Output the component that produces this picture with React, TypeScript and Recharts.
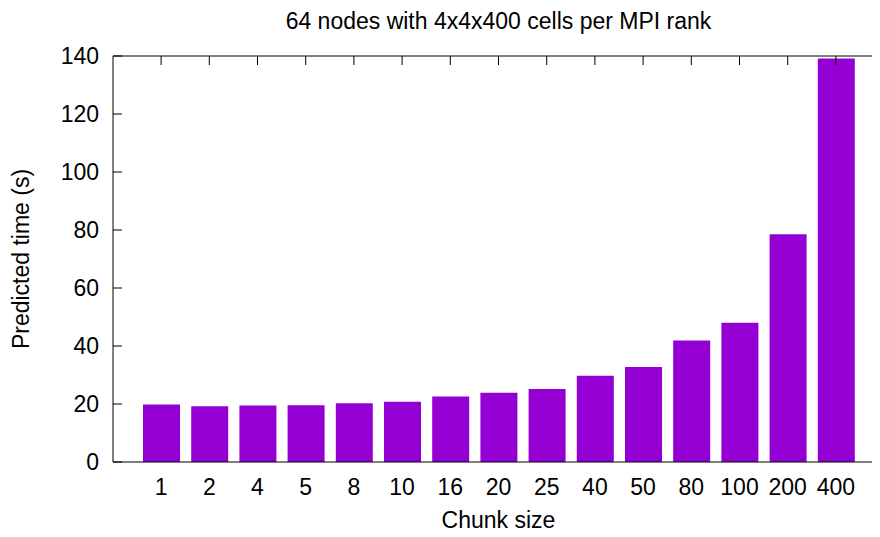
import React from 'react';
import { BarChart, Bar, XAxis, YAxis, Label, ReferenceLine } from 'recharts';

// chunk size categories and predicted run times (s)
const chunkSizes = ['1', '2', '4', '5', '8', '10', '16', '20', '25', '40', '50', '80', '100', '200', '400'];
const predictedTimes = [19.8, 19.2, 19.5, 19.6, 20.3, 20.8, 22.6, 23.9, 25.2, 29.7, 32.8, 41.9, 48.0, 78.5, 139.1];
const yTicks = [0, 20, 40, 60, 80, 100, 120, 140];

const title = '64 nodes with 4x4x400 cells per MPI rank';
const font = '"Liberation Sans", Arial, Helvetica, sans-serif';
const fontSize = 23;
const barColor = '#9400d3';

// layout
const chartWidth = 884;
const chartHeight = 537;
const margin = { top: 56, right: 0, bottom: 0, left: 0 };
const yAxisWidth = 113;
const xAxisHeight = 75;
const plotWidth = chartWidth - yAxisWidth - margin.right;
const tickLen = 9;
const yLabelGap = 14;

const data = chunkSizes.map((c, i) => ({ chunk: c, time: predictedTimes[i] }));

// gnuplot style: labels outside, tick marks pointing into the plot
const LeftTick = (props: any) => {
  const { x, y, payload } = props;
  const axisX = x + yLabelGap;
  return (
    <g>
      <line x1={axisX} x2={axisX + tickLen} y1={y} y2={y} stroke="#000" strokeWidth={1} />
      <text x={x} y={y} dy="0.35em" textAnchor="end" fontFamily={font} fontSize={fontSize} fill="#000">
        {payload.value}
      </text>
    </g>
  );
};

// mirrored tick marks on the top and right border
const topTickShape = (p: any) => {
  const top = Math.min(p.y1, p.y2);
  return <line x1={p.x1} x2={p.x1} y1={top} y2={top + tickLen} stroke="#000" strokeWidth={1} />;
};

const rightTickShape = (p: any) => {
  const right = Math.max(p.x1, p.x2);
  return <line x1={right - tickLen} x2={right} y1={p.y1} y2={p.y1} stroke="#000" strokeWidth={1} />;
};

const App: React.FC = () => {
  return (
    <div style={{ position: 'relative', width: 880, height: 537, overflow: 'hidden', margin: -8, background: '#fff' }}>
      <div
        style={{
          position: 'absolute',
          left: yAxisWidth,
          top: 10,
          width: plotWidth,
          textAlign: 'center',
          fontFamily: font,
          fontSize: fontSize,
          lineHeight: '23px',
          color: '#000',
        }}
      >
        {title}
      </div>
      <BarChart
        width={chartWidth}
        height={chartHeight}
        data={data}
        margin={margin}
        style={{ position: 'absolute', left: 0, top: 0 }}
      >
        <XAxis
          dataKey="chunk"
          height={xAxisHeight}
          padding={{ left: 24, right: 24 }}
          tickLine={false}
          tickSize={0}
          tickMargin={17}
          axisLine={{ stroke: '#000', strokeWidth: 1 }}
          tick={{ fill: '#000', fontFamily: font, fontSize: fontSize }}
          interval={0}
        >
          <Label
            value="Chunk size"
            position="insideBottom"
            offset={9}
            style={{ fill: '#000', fontFamily: font, fontSize: fontSize }}
          />
        </XAxis>
        <YAxis
          width={yAxisWidth}
          domain={[0, 140]}
          ticks={yTicks}
          allowDataOverflow
          tickLine={false}
          tickSize={0}
          tickMargin={yLabelGap}
          axisLine={{ stroke: '#000', strokeWidth: 1 }}
          tick={<LeftTick />}
        >
          <Label
            value="Predicted time (s)"
            angle={-90}
            position="insideLeft"
            offset={21}
            style={{ textAnchor: 'middle', fill: '#000', fontFamily: font, fontSize: fontSize }}
          />
        </YAxis>
        <Bar dataKey="time" fill={barColor} barSize={37} isAnimationActive={false} />
        {/* top border of the plot */}
        <ReferenceLine y={140} stroke="#000" strokeWidth={1} />
        {chunkSizes.map((c) => (
          <ReferenceLine key={'t' + c} x={c} shape={topTickShape} />
        ))}
        {yTicks.map((v) => (
          <ReferenceLine key={'r' + v} y={v} shape={rightTickShape} />
        ))}
      </BarChart>
    </div>
  );
};

export default App;
